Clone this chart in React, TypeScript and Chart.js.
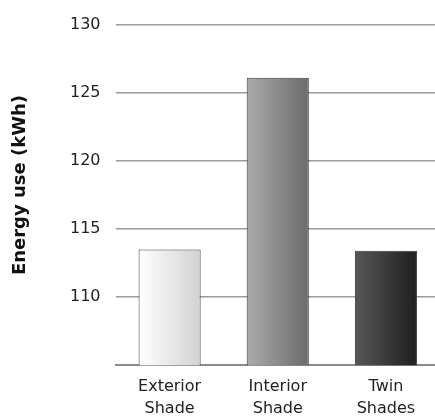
import React, { useEffect, useRef } from "react";
import { Chart, registerables } from "chart.js";

Chart.register(...registerables);

const categories: string[][] = [["Exterior", "Shade"], ["Interior", "Shade"], ["Twin", "Shades"]];
const energyUse: number[] = [113.5, 126.1, 113.4];
const gradientStops: string[][] = [
  ["#ffffff", "#d2d2d2"],
  ["#ababab", "#6b6b6b"],
  ["#575757", "#1f1f1f"],
];
const yTicks: number[] = [110, 115, 120, 125, 130];
const yTitle = "Energy use (kWh)";

const FONT = "'DejaVu Sans', sans-serif";
const BAR_FRACTION = 0.574;

const yTitlePlugin = {
  id: "yTitlePlugin",
  afterDraw(chart: any) {
    const ctx = chart.ctx;
    ctx.save();
    ctx.translate(20, 185);
    ctx.rotate(-Math.PI / 2);
    ctx.font = `bold 18px ${FONT}`;
    ctx.fillStyle = "#111";
    ctx.textAlign = "center";
    ctx.textBaseline = "middle";
    ctx.fillText(yTitle, 0, 0);
    ctx.restore();
  },
};

export default function App() {
  const ref = useRef<HTMLCanvasElement | null>(null);

  useEffect(() => {
    if (!ref.current) return;
    const chart = new Chart(ref.current, {
      type: "bar",
      data: {
        labels: categories,
        datasets: [
          {
            data: energyUse,
            backgroundColor: (ctx: any) => {
              const c = ctx.chart;
              const xs = c.scales?.x;
              const i = ctx.dataIndex;
              if (!xs || i === undefined) return gradientStops[0][1];
              const center = xs.getPixelForValue(i);
              const half = (xs.width / categories.length) * BAR_FRACTION / 2;
              if (!isFinite(center) || !isFinite(half) || half <= 0) return gradientStops[i][1];
              const g = c.ctx.createLinearGradient(center - half, 0, center + half, 0);
              const stops = gradientStops[i];
              g.addColorStop(0, stops[0]);
              g.addColorStop(1, stops[1]);
              return g;
            },
            borderColor: "#3a3a3a",
            borderWidth: 1,
            barPercentage: BAR_FRACTION,
            categoryPercentage: 1,
          },
        ],
      },
      plugins: [yTitlePlugin],
      options: {
        animation: false,
        responsive: true,
        maintainAspectRatio: false,
        layout: { padding: { top: 7, left: 55, right: 0, bottom: -10 } },
        plugins: { legend: { display: false }, tooltip: { enabled: false } },
        scales: {
          x: {
            grid: { display: false, drawTicks: false },
            border: { display: true, color: "#8a8a8a", width: 2 },
            ticks: {
              color: "#222",
              font: { family: FONT, size: 16, lineHeight: 1.4 },
              padding: 10,
              maxRotation: 0,
              autoSkip: false,
            },
          },
          y: {
            min: 105,
            max: 130,
            afterBuildTicks: (axis: any) => {
              axis.ticks = yTicks.map((v) => ({ value: v }));
            },
            grid: { color: "#9a9a9a", lineWidth: 1.5, drawTicks: false },
            border: { display: false },
            ticks: {
              color: "#222",
              font: { family: FONT, size: 16 },
              padding: 15,
            },
            title: { display: false },
          },
        },
      },
    });
    return () => chart.destroy();
  }, []);

  return (
    <div style={{ position: "fixed", left: 0, top: 0, width: 440, height: 420, background: "#fff" }}>
      <canvas ref={ref} />
    </div>
  );
}
